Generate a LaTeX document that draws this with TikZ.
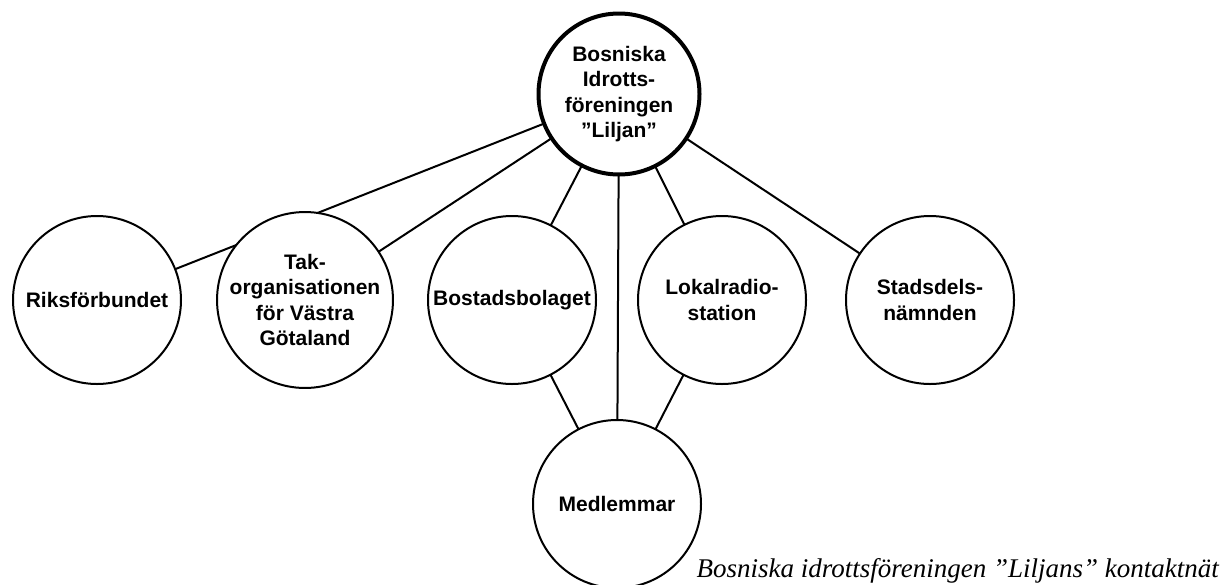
\documentclass[tikz,border=0pt]{standalone}
\usepackage{fontspec}
\setmainfont{Liberation Serif}
\setsansfont{Liberation Sans}
\usetikzlibrary{backgrounds}
\begin{document}
\begin{tikzpicture}[x=1pt,y=-1pt,
  org/.style={circle,draw=black,line width=2pt,fill=white,minimum size=168pt,
    inner sep=0pt,align=center,font=\sffamily\bfseries\fontsize{21}{25.5}\selectfont},
  hub/.style={org,line width=4pt,minimum size=161pt},
  link/.style={draw=black,line width=2pt},
  caption/.style={anchor=base east,inner sep=0pt,font=\itshape\fontsize{27}{31}\selectfont}]
\clip (0,0) rectangle (1225,584);
% organisations
\node[hub] (bif) at (619,94) {Bosniska\\Idrotts-\\föreningen\\”Liljan”};
\node[org] (rik) at (97,300) {Riksförbundet};
\node[org] (tak) at (305,300) {Tak-\\organisationen\\för Västra\\Götaland};
\node[org] (bos) at (512,300) {Bostadsbolaget};
\node[org] (lok) at (722,300) {Lokalradio-\\station};
\node[org] (sta) at (930,300) {Stadsdels-\\nämnden};
\node[org] (med) at (617,504) {Medlemmar};
\node[caption] (cap) at (1219,577) {Bosniska idrottsföreningen ”Liljans” kontaktnät};
% connections, drawn behind the circles
\begin{scope}[on background layer]
\fill[white] (0,0) rectangle (1225,584);
\path[link] (bif.center) -- (rik.center);
\path[link] (bif.center) -- (tak.center);
\path[link] (bif.center) -- (bos.center);
\path[link] (bif.center) -- (lok.center);
\path[link] (bif.center) -- (sta.center);
\path[link] (bif.center) -- (med.center);
\path[link] (bos.center) -- (med.center);
\path[link] (lok.center) -- (med.center);
\end{scope}
\end{tikzpicture}
\end{document}
